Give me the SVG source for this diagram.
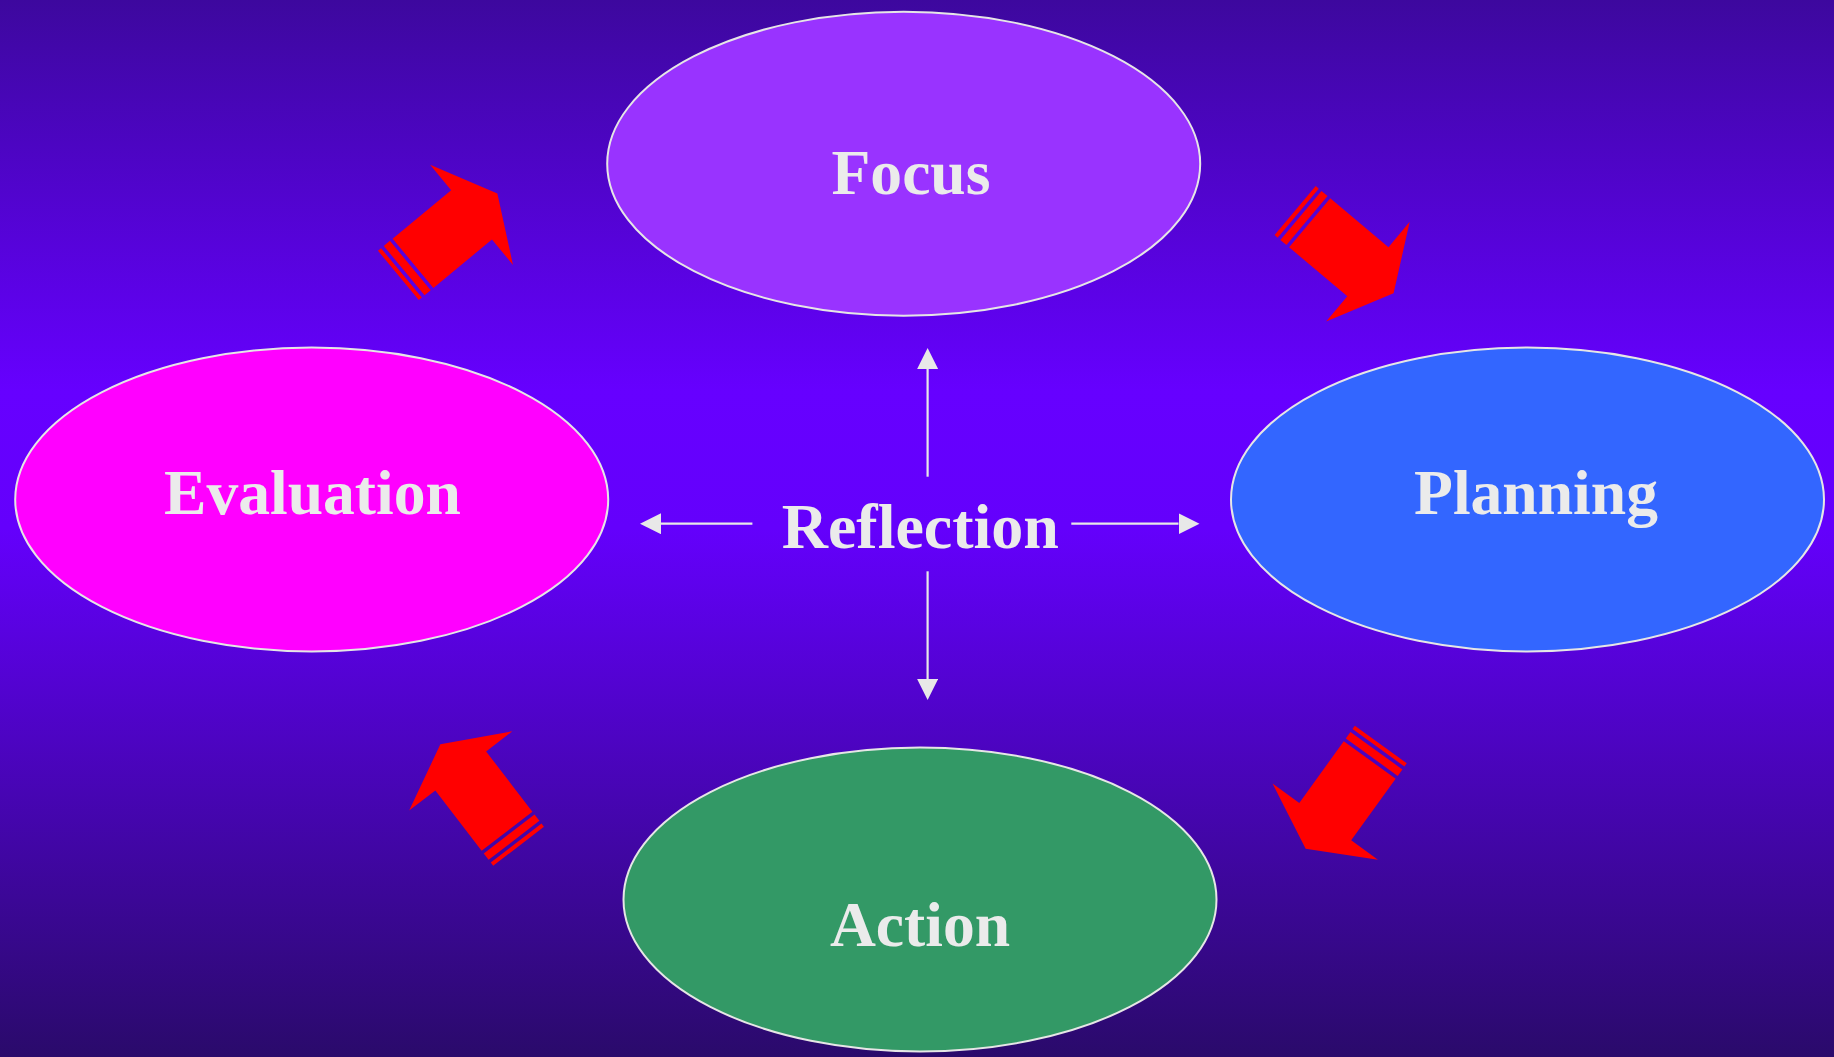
<svg xmlns="http://www.w3.org/2000/svg" width="1834" height="1057" viewBox="0 0 1834 1057">
  <defs>
    <linearGradient id="bg" x1="0" y1="0" x2="0" y2="1">
      <stop offset="0" stop-color="#3d089e"/>
      <stop offset="0.37" stop-color="#6600ff"/>
      <stop offset="0.5" stop-color="#6400fc"/>
      <stop offset="1" stop-color="#2a0a6b"/>
    </linearGradient>
    <marker id="head" markerUnits="userSpaceOnUse" markerWidth="21" markerHeight="21" viewBox="0 0 21 21" refX="0" refY="10.5" orient="auto">
      <path d="M0,0 L21,10.5 L0,21 Z" fill="#e8e8e8"/>
    </marker>
    <!-- block arrow with two stripes at its tail, pointing along +x -->
    <g id="stripedArrow" fill="#ff0000">
      <polygon points="0,-32 76,-32 76,-65 109.5,0 76,65 76,32 0,32"/>
      <rect x="-11.5" y="-32" width="8" height="64"/>
      <rect x="-19" y="-32" width="4" height="64"/>
    </g>
    <style>
      .node { stroke: #e6e6e6; stroke-width: 2; }
      .label { font-family: "Liberation Serif", "Times New Roman", serif; font-weight: bold; font-size: 63.6px; fill: #ebebeb; text-anchor: middle; }
      .link { stroke: #e8e8e8; stroke-width: 2.2; fill: none; marker-end: url(#head); }
    </style>
  </defs>

  <rect x="0" y="0" width="1834" height="1057" fill="url(#bg)"/>

  <g id="focus">
    <ellipse class="node" cx="903.7" cy="163.7" rx="296.5" ry="152" fill="#9933ff"/>
    <text class="label" x="911" y="194">Focus</text>
  </g>

  <g id="planning">
    <ellipse class="node" cx="1527.5" cy="499.5" rx="296.5" ry="152" fill="#3366ff"/>
    <text class="label" x="1536" y="514">Planning</text>
  </g>

  <g id="evaluation">
    <ellipse class="node" cx="311.7" cy="499.5" rx="296.5" ry="152" fill="#ff00ff"/>
    <text class="label" x="312.4" y="514">Evaluation</text>
  </g>

  <g id="action">
    <ellipse class="node" cx="920" cy="899.5" rx="296.5" ry="152" fill="#339966"/>
    <text class="label" x="920" y="946">Action</text>
  </g>

  <g id="reflection">
    <text class="label" x="920.3" y="548.3" style="font-size:64px">Reflection</text>
  </g>

  <g id="connectors">
    <line class="link" x1="927.6" y1="476.7" x2="927.6" y2="369"/>
    <line class="link" x1="927.6" y1="571.3" x2="927.6" y2="679"/>
    <line class="link" x1="752.4" y1="523.7" x2="661" y2="523.7"/>
    <line class="link" x1="1071.3" y1="523.7" x2="1178.5" y2="523.7"/>

    <use href="#stripedArrow" transform="translate(413,263.3) rotate(-39.6)"/>
    <use href="#stripedArrow" transform="translate(1309.7,222.8) rotate(40)"/>
    <use href="#stripedArrow" transform="translate(1369.7,760) rotate(125.8)"/>
    <use href="#stripedArrow" transform="translate(507,831.2) rotate(-127.5)"/>
  </g>
</svg>
